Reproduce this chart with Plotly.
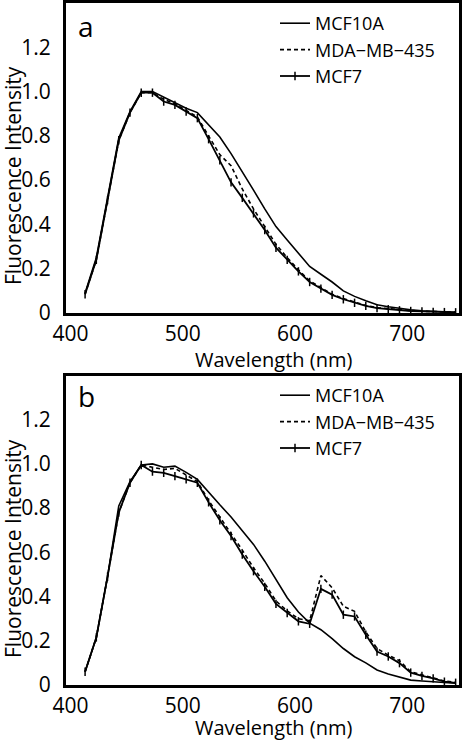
import plotly.graph_objects as go

# ---------------- data ----------------
wavelength = [413, 423, 433, 443, 453, 463, 473, 483, 493, 503, 513, 523, 533, 543, 553, 563, 573,
              583, 593, 603, 613, 623, 633, 643, 653, 663, 673, 683, 693, 703, 713, 723, 733, 743]

# panel a
a_mcf10a = [0.09, 0.25, 0.52, 0.79, 0.91, 1.0, 1.0, 0.975, 0.95, 0.925, 0.905, 0.85, 0.795, 0.72, 0.64,
            0.555, 0.47, 0.39, 0.33, 0.27, 0.21, 0.175, 0.14, 0.10, 0.075, 0.055, 0.037, 0.028, 0.02,
            0.015, 0.01, 0.007, 0.005, 0.003]
a_mda = [0.085, 0.24, 0.51, 0.78, 0.905, 0.995, 0.995, 0.965, 0.945, 0.915, 0.885, 0.80, 0.715, 0.665,
         0.56, 0.47, 0.39, 0.31, 0.25, 0.195, 0.145, 0.115, 0.085, 0.065, 0.049, 0.034, 0.024, 0.019,
         0.014, 0.011, 0.008, 0.006, 0.005, 0.004]
a_mcf7 = [0.085, 0.24, 0.51, 0.78, 0.905, 0.995, 0.995, 0.955, 0.94, 0.91, 0.88, 0.785, 0.69, 0.59, 0.52,
          0.45, 0.375, 0.295, 0.24, 0.188, 0.14, 0.11, 0.082, 0.062, 0.046, 0.032, 0.022, 0.017, 0.012,
          0.009, 0.007, 0.005, 0.004, 0.003]

# panel b
b_mcf10a = [0.06, 0.215, 0.49, 0.81, 0.92, 0.995, 1.0, 0.985, 0.99, 0.962, 0.93, 0.87, 0.815, 0.76, 0.70,
            0.636, 0.56, 0.475, 0.395, 0.33, 0.28, 0.25, 0.21, 0.165, 0.128, 0.10, 0.068, 0.05, 0.035,
            0.022, 0.018, 0.014, 0.01, 0.008]
b_mda = [0.06, 0.215, 0.49, 0.78, 0.915, 0.995, 0.985, 0.975, 0.98, 0.95, 0.92, 0.835, 0.76, 0.69, 0.61,
         0.53, 0.46, 0.38, 0.335, 0.30, 0.29, 0.495, 0.44, 0.356, 0.333, 0.24, 0.165, 0.135, 0.11, 0.06,
         0.045, 0.033, 0.018, 0.012]
b_mcf7 = [0.06, 0.215, 0.49, 0.78, 0.915, 0.995, 0.965, 0.96, 0.945, 0.93, 0.915, 0.826, 0.745, 0.674, 0.59,
          0.515, 0.444, 0.367, 0.326, 0.288, 0.277, 0.435, 0.409, 0.318, 0.31, 0.227, 0.151, 0.129, 0.099,
          0.056, 0.041, 0.03, 0.015, 0.01]

series_names = ["MCF10A", "MDA\u2212MB\u2212435", "MCF7"]
x_tickvals = [400, 500, 600, 700]
y_tickvals = [0, 0.2, 0.4, 0.6, 0.8, 1.0, 1.2]
y_ticktext = ["0", "0.2", "0.4", "0.6", "0.8", "1.0", "1.2"]
panel_labels = ["a", "b"]
x_title = "Wavelength (nm)"
y_title = "Fluorescence Intensity"

# ---------------- figure ----------------
FONT = "Open Sans"
fig = go.Figure()

panels = [
    (a_mcf10a, a_mda, a_mcf7, "x", "y", "legend"),
    (b_mcf10a, b_mda, b_mcf7, "x2", "y2", "legend2"),
]
for s10a, smda, s7, xa, ya, lg in panels:
    fig.add_trace(go.Scatter(x=wavelength, y=s10a, name=series_names[0], mode="lines",
                             line=dict(color="black", width=1.6), xaxis=xa, yaxis=ya, legend=lg))
    fig.add_trace(go.Scatter(x=wavelength, y=smda, name=series_names[1], mode="lines",
                             line=dict(color="black", width=1.6, dash="4px,3px"),
                             xaxis=xa, yaxis=ya, legend=lg))
    fig.add_trace(go.Scatter(x=wavelength, y=s7, name=series_names[2], mode="lines+markers",
                             line=dict(color="black", width=1.8),
                             marker=dict(symbol="line-ns-open", size=6, color="black",
                                         line=dict(color="black", width=1.5)),
                             xaxis=xa, yaxis=ya, legend=lg))

H = 741
T, B = 3, 56
PH = H - T - B  # plot height in px (3..685)


def py2paper(py):
    return (H - B - py) / PH


L, R = 66, 6
PW = 465 - L - R


def px2paper(px):
    return (px - L) / PW


ax_common = dict(showgrid=False, zeroline=False, showline=True, linecolor="black", linewidth=3,
                 mirror=True, ticks="outside", tickcolor="rgba(0,0,0,0)", automargin=False,
                 tickfont=dict(family=FONT, size=21, color="black"))

xax = dict(range=[396, 746], tickvals=x_tickvals, ticklen=0, **ax_common)
yax = dict(range=[0, 1.4], tickvals=y_tickvals, ticktext=y_ticktext, ticklen=8, **ax_common)

dom_a = [py2paper(313), 1.0]
dom_b = [0.0, py2paper(375.5)]

leg_common = dict(xanchor="left", yanchor="top", font=dict(family=FONT, size=18, color="black"),
                  bgcolor="rgba(0,0,0,0)", tracegroupgap=0, itemwidth=30)

fig.update_layout(
    template="none",
    width=465, height=741,
    margin=dict(l=L, r=R, t=T, b=B, autoexpand=False),
    paper_bgcolor="white", plot_bgcolor="white",
    font=dict(family=FONT, color="black"),
    xaxis=dict(domain=[0, 1], anchor="y", **xax),
    yaxis=dict(domain=dom_a, anchor="x", **yax),
    xaxis2=dict(domain=[0, 1], anchor="y2", **xax),
    yaxis2=dict(domain=dom_b, anchor="x2", **yax),
    legend=dict(x=px2paper(275), y=py2paper(5), **leg_common),
    legend2=dict(x=px2paper(275), y=py2paper(377), **leg_common),
    showlegend=True,
)

annos = []
for lab, cy in zip(panel_labels, [26, 396]):
    annos.append(dict(text=lab, x=px2paper(86), y=py2paper(cy), xref="paper", yref="paper",
                      showarrow=False, xanchor="center", yanchor="middle",
                      font=dict(family=FONT, size=28, color="black")))
for cy in [359, 727]:
    annos.append(dict(text=x_title, x=px2paper(273), y=py2paper(cy), xref="paper", yref="paper",
                      showarrow=False, xanchor="center", yanchor="middle", borderpad=0,
                      font=dict(family=FONT, size=20, color="black")))
for cy in [176, 549]:
    annos.append(dict(text=y_title, x=px2paper(13), y=py2paper(cy), xref="paper", yref="paper",
                      showarrow=False, xanchor="center", yanchor="middle", textangle=-90,
                      font=dict(family=FONT, size=21, color="black")))
fig.update_layout(annotations=annos)

fig.write_html("out.html", config={"displayModeBar": False},
               post_script="document.body.style.margin='0px';document.body.style.overflow='hidden';")
